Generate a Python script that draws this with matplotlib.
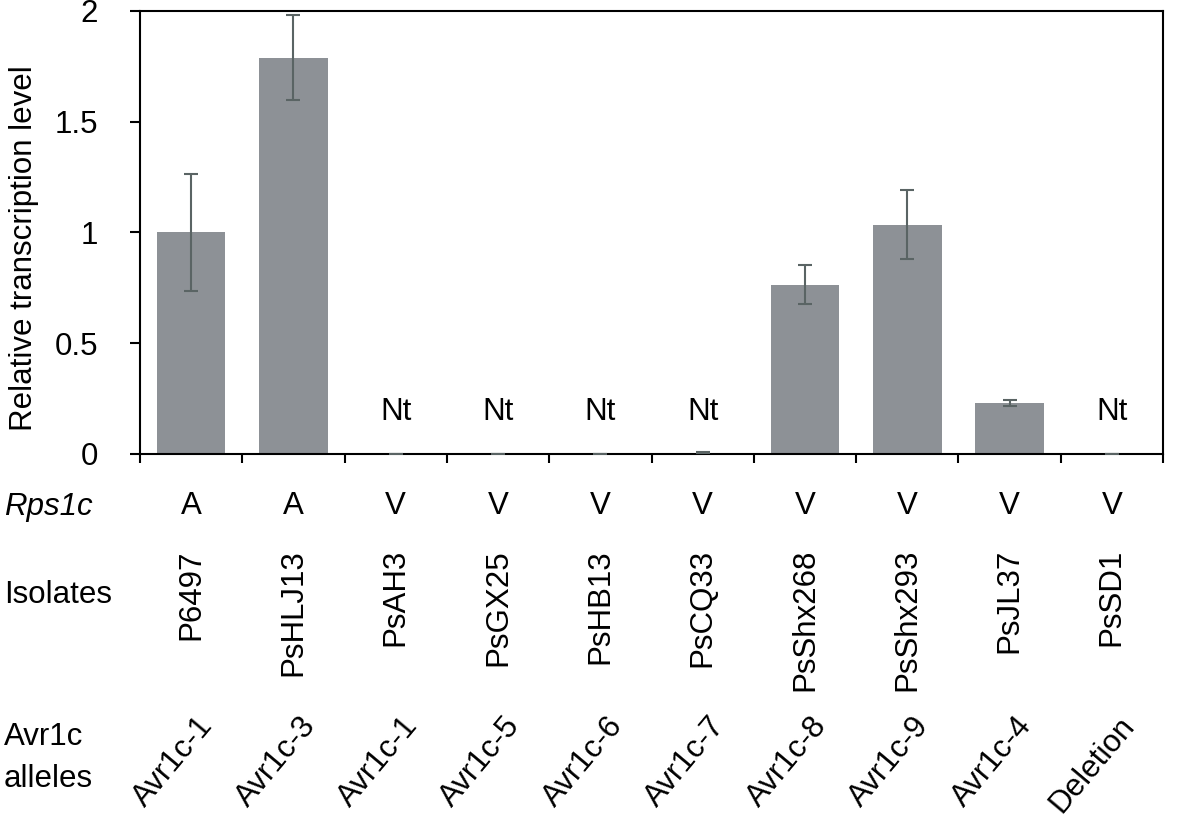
import matplotlib.pyplot as plt
import matplotlib.transforms as mtransforms
import numpy as np

plt.rcParams['font.family'] = ['Liberation Sans', 'DejaVu Sans']

# data
isolates = ["P6497", "PsHLJ13", "PsAH3", "PsGX25", "PsHB13",
            "PsCQ33", "PsShx268", "PsShx293", "PsJL37", "PsSD1"]
rps1c = ["A", "A", "V", "V", "V", "V", "V", "V", "V", "V"]
alleles = ["Avr1c-1", "Avr1c-3", "Avr1c-1", "Avr1c-5", "Avr1c-6",
           "Avr1c-7", "Avr1c-8", "Avr1c-9", "Avr1c-4", "Deletion"]
level = [1.0, 1.79, 0, 0, 0, 0.005, 0.765, 1.035, 0.23, 0]
err = [0.265, 0.19, 0, 0, 0, 0.002, 0.09, 0.155, 0.013, 0]
not_tested = [2, 3, 4, 5, 9]

W, H = 1181, 826
fig = plt.figure(figsize=(W / 100, H / 100), dpi=100)
ax = fig.add_axes([140 / W, 1 - 454 / H, 1023 / W, 443 / H])

x = np.arange(len(isolates))
ax.bar(x, level, width=0.67, color='#8d9196', zorder=2)
ax.errorbar(x, level, yerr=err, fmt='none', ecolor='#5a6464',
            elinewidth=1.5, capsize=5, capthick=1.5, zorder=3)

for i in not_tested:
    ax.text(i, 0.19, "Nt", ha='center', va='center', fontsize=22.5)

ax.set_xlim(-0.5, len(isolates) - 0.5)
ax.set_ylim(0, 2)
ax.set_yticks([0, 0.5, 1, 1.5, 2])
ax.set_yticklabels(["0", "0.5", "1", "1.5", "2"])
ax.set_xticks(np.arange(-0.5, len(isolates)))
ax.set_xticklabels([])
ax.tick_params(axis='y', direction='out', length=7, width=1.5,
               labelsize=22.5, pad=23)
ax.tick_params(axis='x', direction='out', length=6.5, width=1.5)
for s in ax.spines.values():
    s.set_linewidth(1.5)
ax.set_ylabel("Relative transcription level", fontsize=22.5)
ax.yaxis.set_label_coords(-0.099, 0.465)

# rows of labels under the plot
tr = mtransforms.blended_transform_factory(ax.transData, fig.transFigure)
for i in range(len(isolates)):
    ax.text(i, 1 - 514 / H, rps1c[i], transform=tr, ha='center',
            va='baseline', fontsize=22.5, clip_on=False)
    ax.text(i, 1 - 549 / H, isolates[i], transform=tr, ha='center',
            va='top', rotation=90, fontsize=22.5, clip_on=False)
    ax.text(i + 0.225, 1 - 726 / H, alleles[i], transform=tr, ha='right',
            va='baseline', rotation=50, rotation_mode='anchor',
            fontsize=22.5, clip_on=False)

fig.text(4 / W, 1 - 515 / H, "Rps1c", style='italic', fontsize=22.5,
         ha='left', va='baseline')
fig.text(4 / W, 1 - 603 / H, "Isolates", fontsize=22.5,
         ha='left', va='baseline')
fig.text(4 / W, 1 - 745 / H, "Avr1c", fontsize=22.5,
         ha='left', va='baseline')
fig.text(4 / W, 1 - 787 / H, "alleles", fontsize=22.5,
         ha='left', va='baseline')

fig.savefig("out.png", dpi=100)
